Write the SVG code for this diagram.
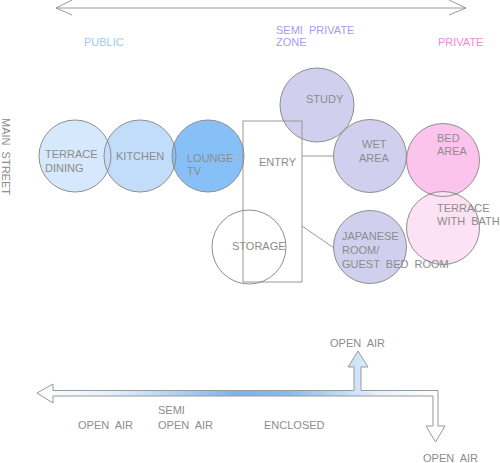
<svg xmlns="http://www.w3.org/2000/svg" xmlns:xlink="http://www.w3.org/1999/xlink" width="500" height="463" viewBox="0 0 500 463">
<defs>
<style>
text{font-family:"Liberation Sans","DejaVu Sans",sans-serif;font-size:11px;fill:#8c8c8c;white-space:pre}
.ln{stroke:#999;stroke-width:1;fill:none}
.ol{fill:none;stroke:#8e8e8e;stroke-width:1}
.f-td{fill:#d6e8fb}.f-k{fill:#c2ddf9}.f-l{fill:#87c0f7}.f-p{fill:#d0d0ee}.f-b{fill:#fcc4ec}.f-tb{fill:#fde1f4}.f-s{fill:#fff}
</style>
<linearGradient id="g" gradientUnits="userSpaceOnUse" x1="37" y1="0" x2="438" y2="0">
<stop offset="0" stop-color="#fff"/>
<stop offset="0.18" stop-color="#e6f1fc"/>
<stop offset="0.5" stop-color="#78b3f1"/>
<stop offset="0.63" stop-color="#86bbf2"/>
<stop offset="0.85" stop-color="#e6f1fc"/>
<stop offset="1" stop-color="#fff"/>
</linearGradient>
<circle id="c-td" cx="75" cy="156" r="36"/>
<circle id="c-k" cx="140" cy="156" r="36"/>
<circle id="c-l" cx="208" cy="156" r="36"/>
<circle id="c-st" cx="317" cy="105" r="37"/>
<circle id="c-w" cx="370" cy="156" r="36.5"/>
<circle id="c-b" cx="443" cy="160" r="36.5"/>
<circle id="c-tb" cx="443" cy="228" r="36.5"/>
<circle id="c-j" cx="370" cy="247" r="36.5"/>
<circle id="c-s" cx="249" cy="247" r="37"/>
</defs>
<rect width="500" height="463" fill="#fff"/>

<g id="zone-axis">
<line class="ln" x1="56" y1="8" x2="466" y2="8"/>
<polyline class="ln" points="72,0 56,8 72,15"/>
<polyline class="ln" points="449,0 466,8 449,15"/>
<text x="84" y="46" style="fill:#9ec9f4">PUBLIC</text>
<text x="276" y="34" style="fill:#a99af0">SEMI  PRIVATE</text>
<text x="276" y="46" style="fill:#a99af0">ZONE</text>
<text x="438" y="46" style="fill:#f28ad8">PRIVATE</text>
</g>

<g id="main-street">
<text transform="translate(2,118) rotate(90)">MAIN  STREET</text>
</g>

<g id="nodes">
<g id="terrace-dining"><use xlink:href="#c-td" class="f-td"/><text x="45" y="158">TERRACE</text><text x="45" y="172">DINING</text></g>
<g id="kitchen"><use xlink:href="#c-k" class="f-k"/><text x="116" y="160">KITCHEN</text></g>
<g id="lounge-tv"><use xlink:href="#c-l" class="f-l"/><text x="187" y="162">LOUNGE</text><text x="187" y="175">TV</text></g>
<g id="study"><use xlink:href="#c-st" class="f-p"/><text x="306" y="103">STUDY</text></g>
<g id="wet-area"><use xlink:href="#c-w" class="f-p"/><text x="362" y="148">WET</text><text x="359" y="162">AREA</text></g>
<g id="bed-area"><use xlink:href="#c-b" class="f-b"/><text x="437" y="142">BED</text><text x="437" y="155">AREA</text></g>
<g id="terrace-bath"><use xlink:href="#c-tb" class="f-tb"/><text x="437" y="212">TERRACE</text><text x="437" y="225">WITH  BATH</text></g>
<g id="storage"><use xlink:href="#c-s" class="f-s"/><text x="232" y="250">STORAGE</text></g>
<g id="japanese-room"><use xlink:href="#c-j" class="f-p"/><text x="342" y="240">JAPANESE</text><text x="342" y="254">ROOM/</text><text x="342" y="268">GUEST  BED  ROOM</text></g>
<g id="entry"><rect class="ln" x="243" y="121" width="59" height="161"/><text x="259" y="166">ENTRY</text></g>
</g>

<g id="outlines">
<use xlink:href="#c-td" class="ol"/><use xlink:href="#c-k" class="ol"/><use xlink:href="#c-l" class="ol"/>
<use xlink:href="#c-st" class="ol"/><use xlink:href="#c-w" class="ol"/><use xlink:href="#c-b" class="ol"/>
<use xlink:href="#c-tb" class="ol"/><use xlink:href="#c-s" class="ol"/><use xlink:href="#c-j" class="ol"/>
</g>

<g id="connectors">
<line class="ln" x1="302" y1="156" x2="333.5" y2="156"/>
<line class="ln" x1="302" y1="226" x2="334" y2="248"/>
</g>

<g id="enclosure-axis">
<path d="M37,393 L53,384 L53,390.5 L354,390.5 L354,367 L348,367 L358,351 L368,367 L361,367 L361,390.5 L438,390.5 L438,426 L445,426 L435.5,442 L426,426 L433,426 L433,396 L53,396 L53,403 Z" fill="url(#g)" stroke="#999" stroke-width="1" stroke-linejoin="miter"/>
<text x="330" y="347">OPEN  AIR</text>
<text x="78" y="429">OPEN  AIR</text>
<text x="158" y="414">SEMI</text>
<text x="158" y="429">OPEN  AIR</text>
<text x="264" y="429">ENCLOSED</text>
<text x="423" y="462">OPEN  AIR</text>
</g>
</svg>
